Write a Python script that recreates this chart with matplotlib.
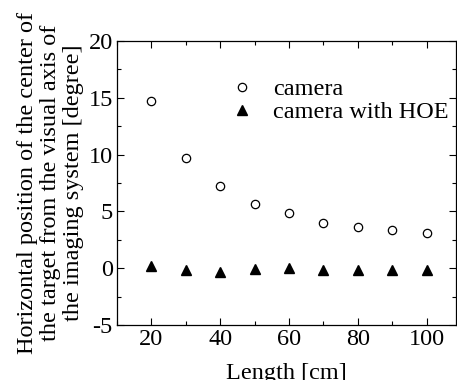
import matplotlib
matplotlib.use("Agg")
import matplotlib.pyplot as plt
from matplotlib.ticker import MultipleLocator

length = [20, 30, 40, 50, 60, 70, 80, 90, 100]
camera = [14.75, 9.68, 7.23, 5.69, 4.90, 4.02, 3.59, 3.32, 3.09]
camera_hoe = [0.15, -0.2, -0.3, -0.03, 0.05, -0.2, -0.15, -0.12, -0.12]

plt.rcParams['font.family'] = ['Liberation Serif', 'DejaVu Serif']
plt.rcParams['mathtext.fontset'] = 'stix'
plt.rcParams['axes.unicode_minus'] = False

fs = 17.5
fig = plt.figure(figsize=(4.57, 3.8), dpi=100)
ax = fig.add_axes([117/457, 1-325/380, (456-117)/457, (325-41)/380])

ax.plot(length, camera, linestyle='none', marker='o', markersize=6,
        markerfacecolor='white', markeredgecolor='black', markeredgewidth=0.9,
        label='camera')
ax.plot(length, camera_hoe, linestyle='none', marker='^', markersize=7.5,
        color='black', label='camera with HOE')

ax.set_xlim(10, 108.5)
ax.set_ylim(-5, 20)
ax.xaxis.set_major_locator(MultipleLocator(20))
ax.xaxis.set_minor_locator(MultipleLocator(10))
ax.yaxis.set_major_locator(MultipleLocator(5))
ax.yaxis.set_minor_locator(MultipleLocator(2.5))
ax.tick_params(which='both', direction='in', top=True, right=True, labelsize=fs, width=0.8)
ax.tick_params(which='major', length=5)
ax.tick_params(which='minor', length=3)
ax.tick_params(axis='x', pad=3)
ax.tick_params(axis='y', pad=3)
for s in ax.spines.values():
    s.set_linewidth(0.9)

ax.set_xlabel('Length [cm]', fontsize=fs, labelpad=9)
ax.set_ylabel('Horizontal position of the center of\nthe target from the visual axis of\nthe imaging system [degree]',
              fontsize=fs, linespacing=1.12, labelpad=3)

ax.legend(loc='upper left', bbox_to_anchor=(0.28, 0.912), frameon=False, fontsize=fs,
          handletextpad=0.5, borderpad=0, labelspacing=0.05, handlelength=1.5)

fig.savefig('out.png', dpi=100)
